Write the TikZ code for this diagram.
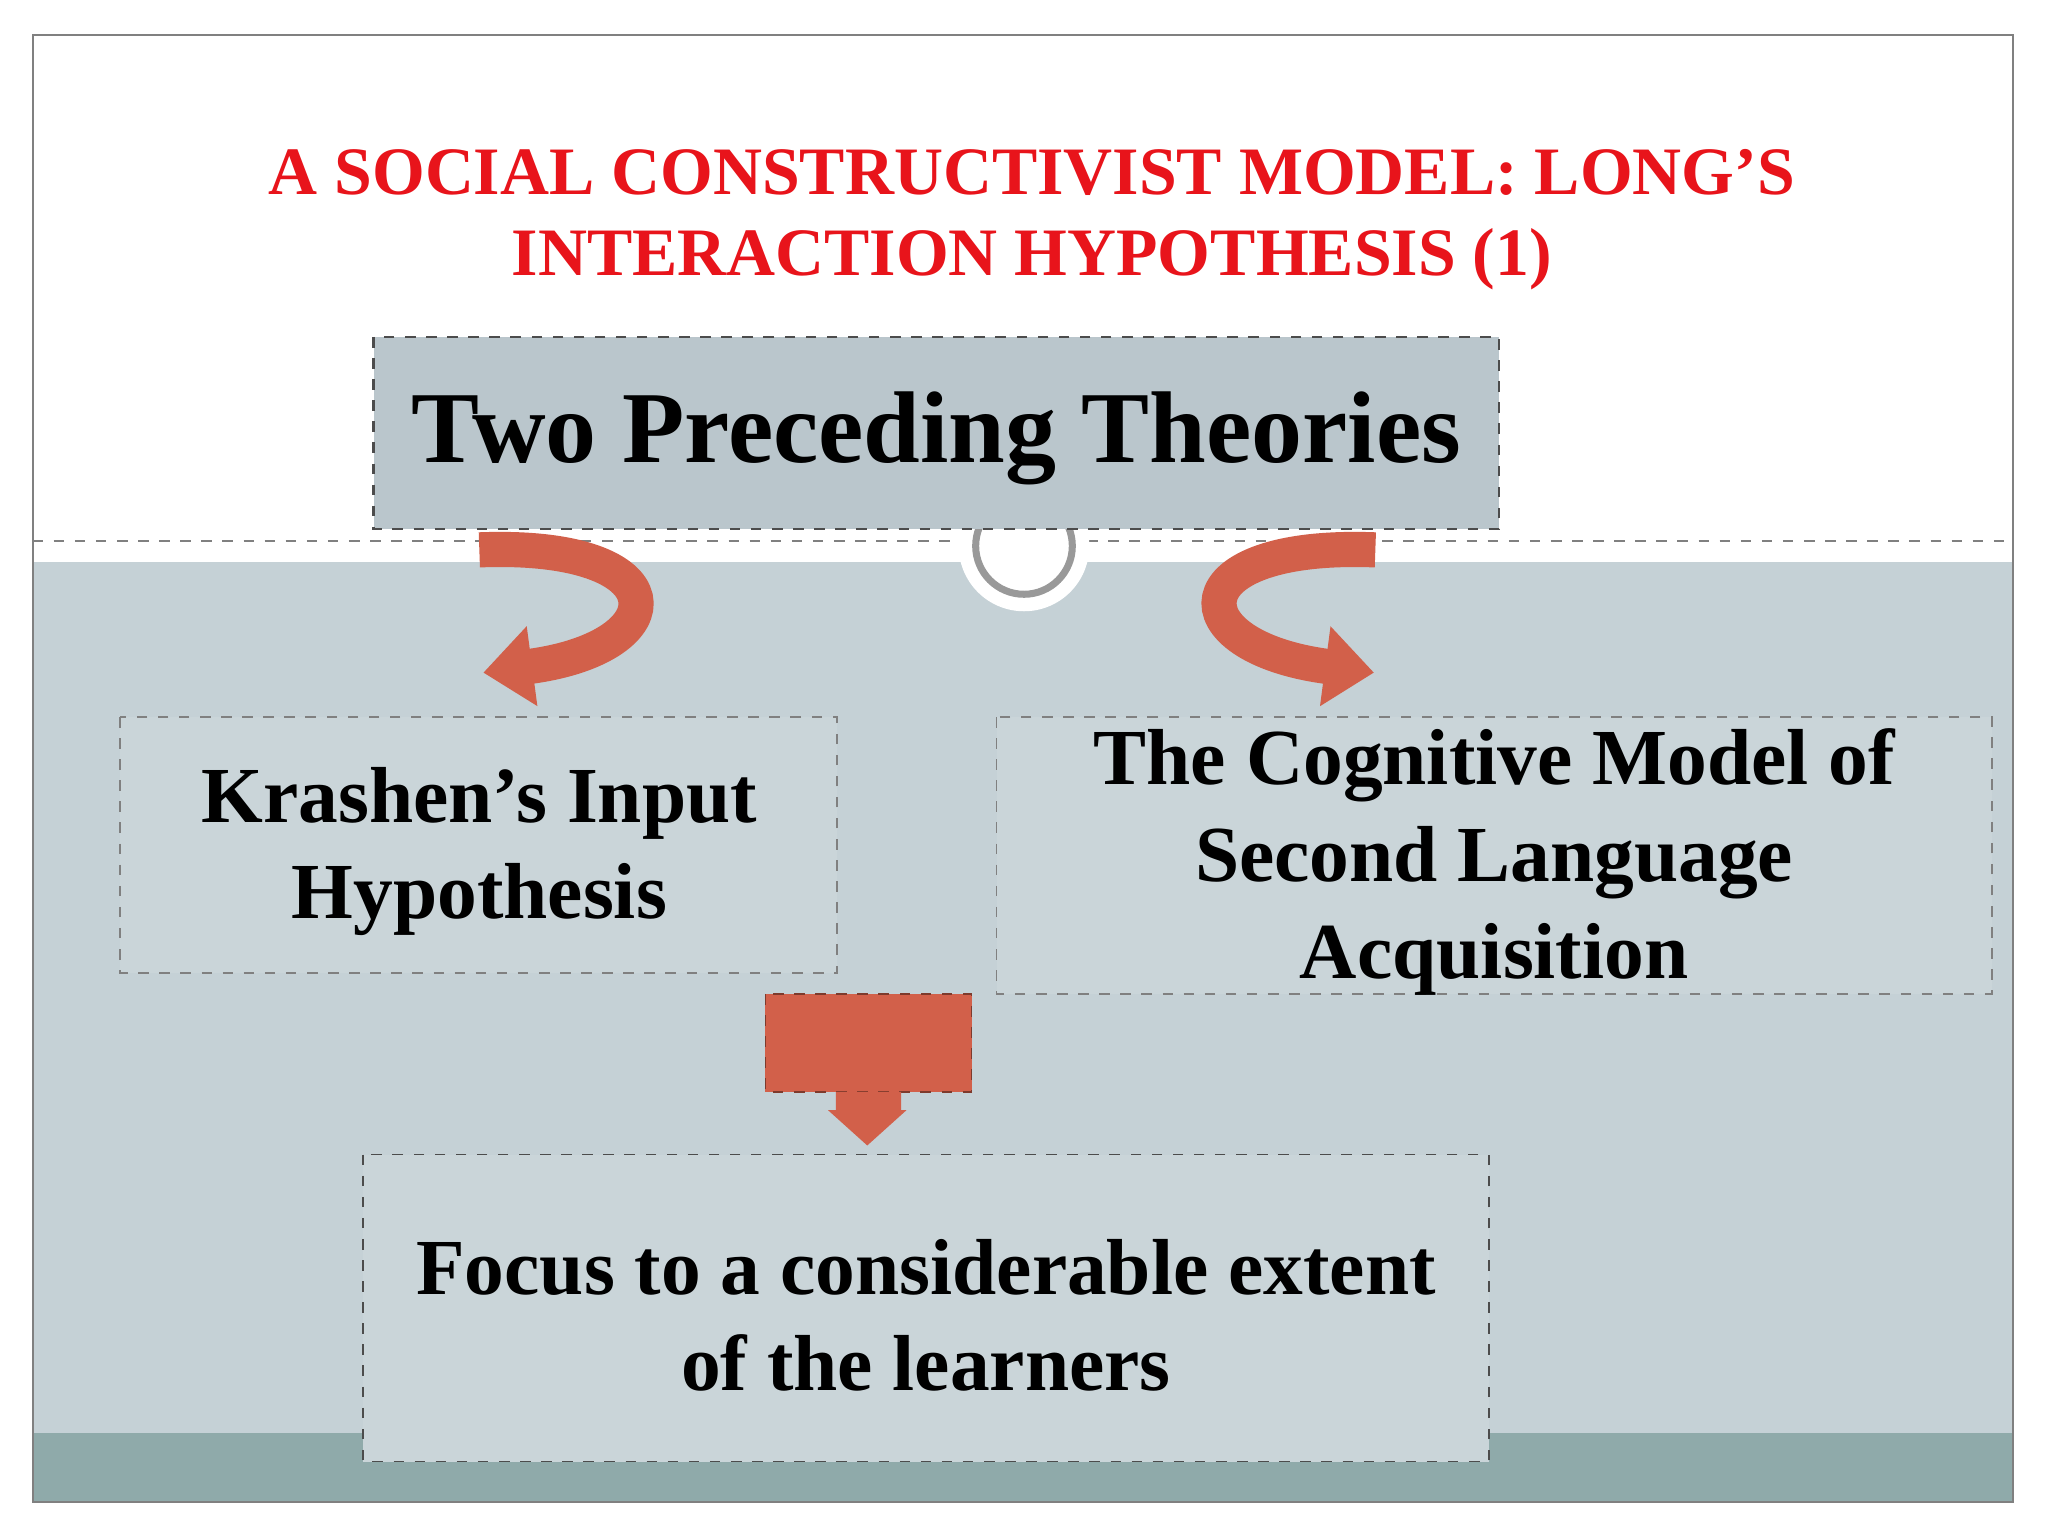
\documentclass[tikz,border=0pt]{standalone}
\usepackage{fontspec}
\setmainfont{Liberation Serif}
\usetikzlibrary{arrows.meta}
\definecolor{ttl}{HTML}{E8141B}
\definecolor{bg}{HTML}{C5D1D6}
\definecolor{band}{HTML}{8FAAAA}
\definecolor{boxf}{HTML}{BAC6CC}
\definecolor{arr}{HTML}{D2604A}
\tikzset{box/.style={draw=black!70,dashed,fill=boxf,line width=0.6pt},
 lbox/.style={draw=gray,dashed,fill=bg!92!white,line width=0.5pt},
 txt/.style={font=\bfseries,align=center,text=black},
 carr/.style={draw=arr,line width=10pt,-{Triangle[width=22pt,length=14pt]}}}
\begin{document}
\begin{tikzpicture}[x=0.01306cm,y=-0.01306cm]
\useasboundingbox (0,0) rectangle (1568,1176);
\fill[white] (0,0) rectangle (1568,1176);
\fill[bg] (25,430) rectangle (1541,1097);
\fill[band] (25,1097) rectangle (1541,1150);
\draw[gray,line width=0.5pt] (25,27) rectangle (1541,1150);
\draw[gray,dashed,line width=0.5pt] (25,414) -- (1541,414);
\fill[white] (784,418) circle (50);
\draw[gray!80,line width=2pt] (784,418) circle (37);
\node[txt,text=ttl,font=\bfseries\fontsize{19.3}{23}\selectfont] (title) at (790,168) {A SOCIAL CONSTRUCTIVIST MODEL: LONG’S\\INTERACTION HYPOTHESIS (1)};
\draw[box] (286,258) rectangle (1148,405);
\node[txt,font=\bfseries\fontsize{29}{34}\selectfont] (two) at (717,336) {Two Preceding Theories};
\draw[lbox] (92,549) rectangle (641,745);
\node[txt,font=\bfseries\fontsize{22.6}{27.5}\selectfont] (kr) at (367,652) {Krashen’s Input\\Hypothesis};
\draw[lbox] (763,549) rectangle (1525,761);
\node[txt,font=\bfseries\fontsize{22.6}{27.5}\selectfont] (cg) at (1144,660) {The Cognitive Model of\\Second Language\\Acquisition};
\draw[lbox,draw=black!70] (278,884) rectangle (1140,1119);
\node[txt,font=\bfseries\fontsize{22.6}{27.5}\selectfont] (fo) at (709,1007) {Focus to a considerable extent\\of the learners};
\draw[carr] (367,421) .. controls (520,415) and (520,495) .. (370,515);
\draw[carr] (1053,421) .. controls (900,415) and (900,495) .. (1052,515);
\fill[arr] (586,761) rectangle (744,836);
\draw[arr!60!black,dashed,line width=0.4pt] (586,761) rectangle (744,836);
\fill[arr] (640,836) -- (690,836) -- (690,850) -- (694,850) -- (664,877) -- (634,850) -- (640,850) -- cycle;
\end{tikzpicture}
\end{document}
